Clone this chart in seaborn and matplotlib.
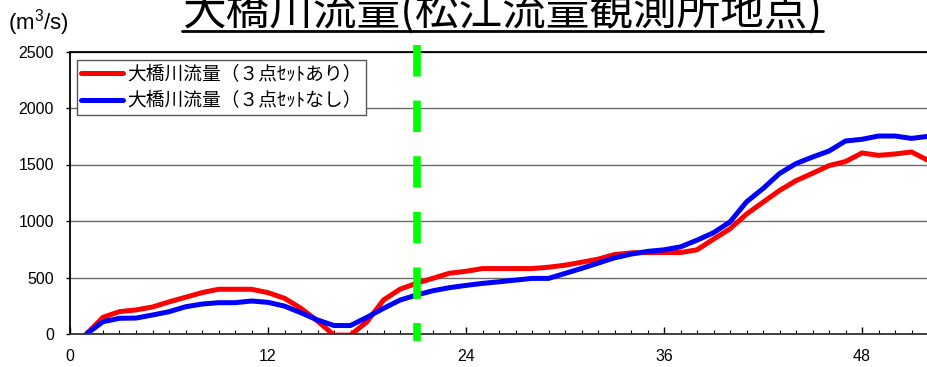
import matplotlib
matplotlib.use("Agg")
import matplotlib.pyplot as plt
import pandas as pd
import seaborn as sns
from matplotlib.lines import Line2D
from matplotlib.ticker import MultipleLocator

# Hourly flow of the Ohashi River at the Matsue gauging station (m3/s)
hours = list(range(1, 53))
flow_with_set = [0, 148, 198, 213, 239, 284, 325, 366, 396, 396,
                 396, 366, 316, 227, 115, -10, -10, 109, 301, 396,
                 449, 493, 538, 555, 579, 579, 579, 579, 591, 609,
                 635, 662, 703, 718, 721, 721, 721, 745, 839, 931,
                 1061, 1166, 1270, 1357, 1422, 1490, 1526, 1602, 1581, 1593,
                 1611, 1537]
flow_without_set = [0, 109, 139, 141, 168, 197, 241, 265, 277, 277,
                    292, 280, 247, 188, 124, 75, 75, 148, 227, 300,
                    345, 383, 410, 430, 448, 462, 477, 492, 492, 536,
                    580, 627, 674, 707, 731, 745, 771, 830, 896, 992,
                    1169, 1287, 1420, 1508, 1566, 1619, 1708, 1723, 1752, 1752,
                    1731, 1749]
series_names = ["大橋川流量（３点ｾｯﾄあり）", "大橋川流量（３点ｾｯﾄなし）"]
series_colors = ["#FF0000", "#0000FF"]
marker_hour = 21
x_ticks = [0, 12, 24, 36, 48]
y_ticks = [0, 500, 1000, 1500, 2000, 2500]
title_text = "大橋川流量(松江流量観測所地点)"
unit_text = "(m$^3$/s)"

sns.set_style("white")
plt.rcParams["font.family"] = ["Liberation Sans", "Noto Sans CJK JP"]
plt.rcParams["mathtext.default"] = "regular"
plt.rcParams["text.color"] = "black"
plt.rcParams["xtick.color"] = "black"
plt.rcParams["ytick.color"] = "black"

W, H = 928, 367
fig = plt.figure(figsize=(W / 100, H / 100), dpi=100)
ax = fig.add_axes([70 / W, 33 / H, 858 / W, 282.5 / H])

df = pd.DataFrame({
    "hour": hours * 2,
    "flow": flow_with_set + flow_without_set,
    "series": [series_names[0]] * len(hours) + [series_names[1]] * len(hours),
})
sns.lineplot(data=df, x="hour", y="flow", hue="series",
             palette=dict(zip(series_names, series_colors)),
             linewidth=3.6, estimator=None, sort=False, legend=False, ax=ax)

# dashed marker of the reference hour, running a little past the frame
ax.plot([marker_hour, marker_hour], [1.023, -0.025], transform=ax.get_xaxis_transform(),
        color="#00FF00", lw=5.5, linestyle=(0, (4.12, 3.16)),
        dash_capstyle="butt", clip_on=False, zorder=5)

ax.set_xlim(0, 52)
ax.set_ylim(0, 2500)
ax.set_xticks(x_ticks)
ax.set_yticks(y_ticks)
ax.xaxis.set_minor_locator(MultipleLocator(1))
ax.set_xlabel("")
ax.set_ylabel("")

ax.yaxis.grid(True, color="#6a6a6a", linewidth=1.0)
ax.set_axisbelow(True)
for side in ("left", "top"):
    ax.spines[side].set_color("black")
    ax.spines[side].set_linewidth(1.3)
ax.spines["bottom"].set_color("#333333")
ax.spines["bottom"].set_linewidth(1.3)
ax.spines["right"].set_visible(False)

ax.tick_params(axis="y", which="major", direction="out", length=3, width=1,
               pad=8.5, labelsize=11.5, left=True)
ax.tick_params(axis="x", which="major", direction="in", length=5, width=1,
               pad=11, labelsize=11.5, bottom=True)
ax.tick_params(axis="x", which="minor", direction="in", length=3, width=0.8,
               bottom=True)

handles = [Line2D([], [], color=c, lw=3.6) for c in series_colors]
leg = ax.legend(handles, series_names, loc="upper left",
                bbox_to_anchor=(7 / 858, 1 - 8.5 / 282.5), borderaxespad=0,
                frameon=True, fancybox=False, framealpha=1, edgecolor="#555555",
                prop={"family": "Noto Sans CJK JP", "size": 13.5},
                handlelength=2.25, handletextpad=0.25, borderpad=0.2,
                labelspacing=0.3)
leg.get_frame().set_linewidth(1.0)

fig.text(8 / W, 1 - 22.5 / H, unit_text, ha="left", va="center", fontsize=16)

title = fig.text(502.5 / W, 1 - 24.4 / H, title_text, ha="center", va="baseline",
                 fontsize=31.4, family="Noto Sans CJK JP")

# underline the title across its drawn width
fig.canvas.draw()
bb = title.get_window_extent()
yline = 1 - 30.5 / H
fig.add_artist(Line2D([bb.x0 / W, bb.x1 / W], [yline, yline],
                      transform=fig.transFigure, color="black", lw=2.0))

fig.savefig("out.png", dpi=100)
